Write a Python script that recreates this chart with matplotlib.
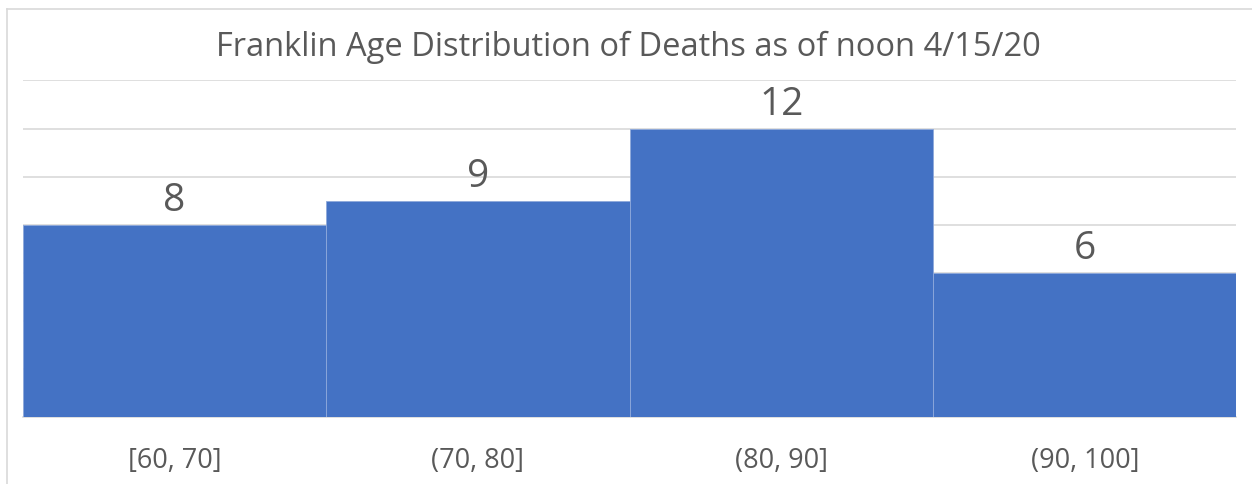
import matplotlib.pyplot as plt

# data
bins = ['[60, 70]', '(70, 80]', '(80, 90]', '(90, 100]']
deaths = [8, 9, 12, 6]

plt.rcParams['font.family'] = ['Open Sans', 'DejaVu Sans']
text_color = '#595959'

fig = plt.figure(figsize=(12.52, 4.84), dpi=100)
ax = fig.add_axes([0.018, 0.139, 0.9696, 0.6947])

x = range(len(bins))
bars = ax.bar(x, deaths, width=1.0, color='#4472C4', edgecolor='#8EA9DB', linewidth=0.6, zorder=3)
ax.bar_label(bars, labels=[str(v) for v in deaths], padding=3, fontsize=28, color=text_color)

ax.set_xlim(-0.5, len(bins) - 0.5)
ax.set_ylim(0, 14)
ax.set_yticks(range(0, 15, 2))
ax.yaxis.grid(True, color='#D9D9D9', linewidth=1.2, zorder=0)
ax.tick_params(axis='y', left=False, labelleft=False)
ax.set_xticks(list(x))
ax.set_xticklabels(bins, fontsize=19.5, color=text_color)
ax.tick_params(axis='x', length=0, pad=22)
for side in ['left', 'right', 'top']:
    ax.spines[side].set_visible(False)
ax.spines['bottom'].set_color('#D9D9D9')
ax.spines['bottom'].set_linewidth(1.2)

fig.text(0.502, 0.902, 'Franklin Age Distribution of Deaths as of noon 4/15/20',
         ha='center', va='center', fontsize=23.5, color=text_color)

# chart frame (only left and top edges visible in the crop)
fig.add_artist(plt.Line2D([6.5 / 1252, 6.5 / 1252], [0, 1 - 8.5 / 484], color='#D9D9D9', linewidth=1.2))
fig.add_artist(plt.Line2D([6.5 / 1252, 1], [1 - 8.5 / 484, 1 - 8.5 / 484], color='#D9D9D9', linewidth=1.2))

fig.savefig('out.png', dpi=100, facecolor='white')
